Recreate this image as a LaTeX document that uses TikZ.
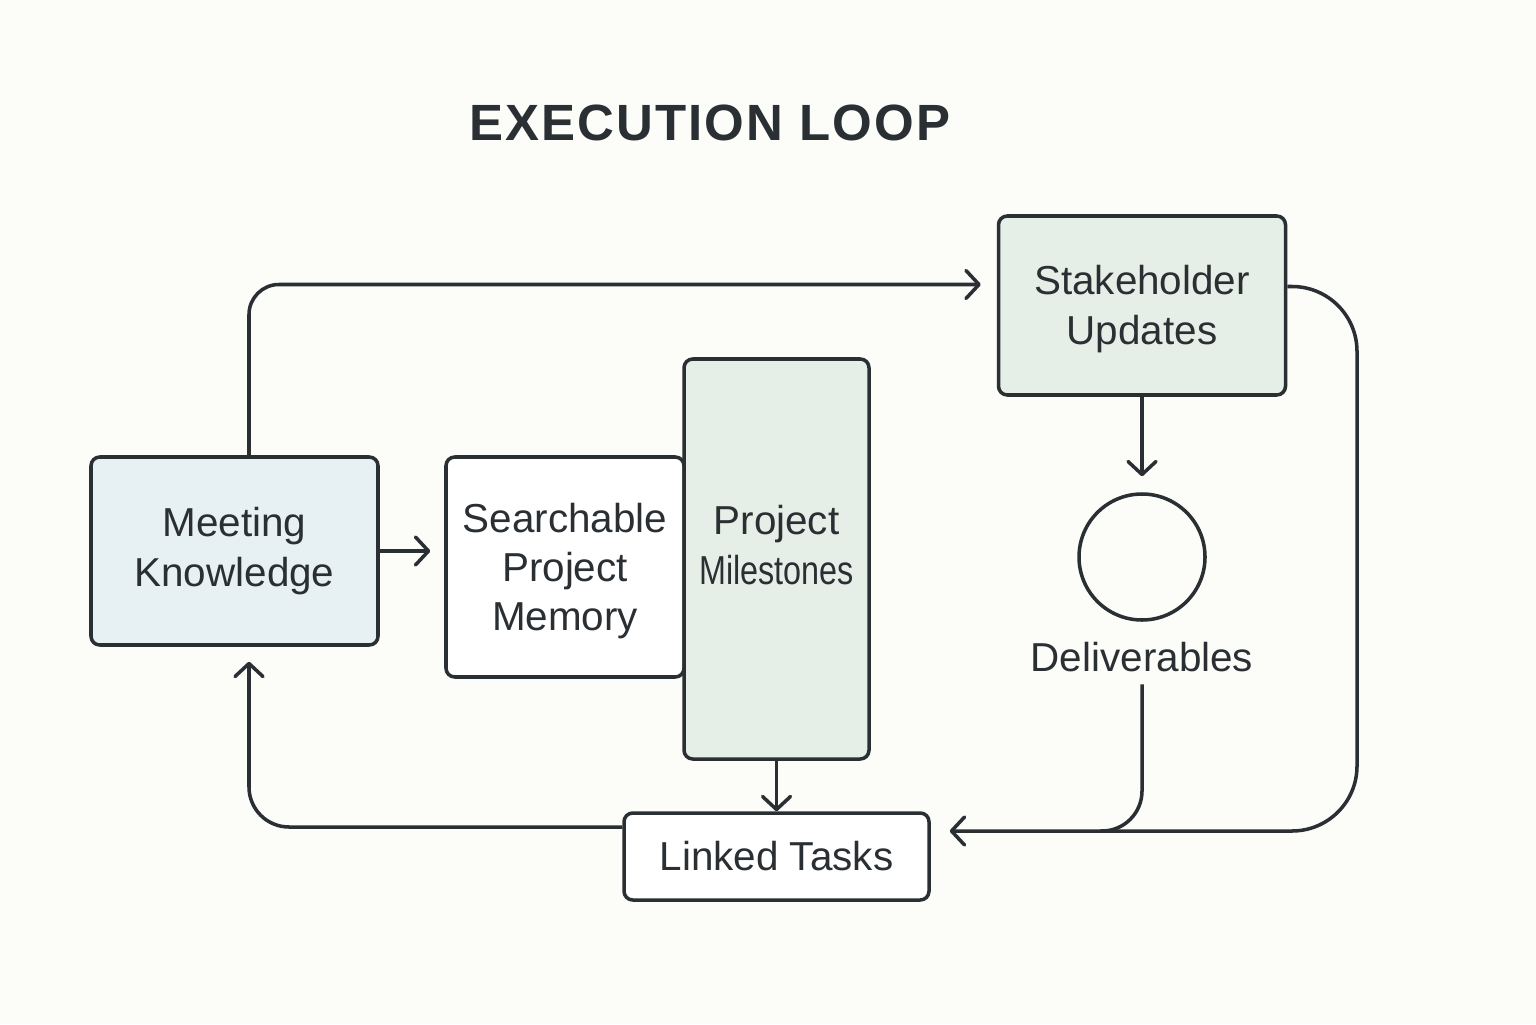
\documentclass[tikz,border=0pt]{standalone}
\usepackage{fontspec}
\setmainfont{Liberation Sans}
\newfontfamily\titlefont[LetterSpace=4]{Liberation Sans}
\usetikzlibrary{arrows.meta,positioning}
\definecolor{inkgray}{HTML}{2A2F33}
\definecolor{paper}{HTML}{FCFCF9}
\definecolor{knowblue}{HTML}{E7F0F3}
\definecolor{milegreen}{HTML}{E5EFE7}
\begin{document}
\begin{tikzpicture}
        \tikzset{
          every node/.style={text=inkgray,align=center,font=\fontsize{11.5}{14}\selectfont},
          box/.style={draw=inkgray,line width=1pt,rounded corners=2.5pt,inner sep=0pt},
          link/.style={draw=inkgray,line width=1pt,-{Straight Barb[length=1.3mm,width=2.8mm,round]}},
        }
        \fill[paper] (0,0) rectangle (15.36,10.24);

        %TITLE
        \node[font=\titlefont\bfseries\fontsize{14.5}{17}\selectfont] (title) at (7.10,9.01) {EXECUTION LOOP};

        %BOXES
        \node[box,fill=knowblue,minimum width=2.87cm,minimum height=1.88cm] (meet) at (2.345,4.73) {Meeting\\Knowledge};
        \node[box,fill=white,minimum width=2.38cm,minimum height=2.20cm] (search) at (5.65,4.57) {};
        \node (searchtext) at (5.65,4.53) {Searchable\\Project\\Memory};
        \node[box,fill=milegreen,minimum width=1.85cm,minimum height=4.00cm] (mile) at (7.765,4.65) {};
        \node (miletext) at (7.765,4.79) {Project\\\scalebox{0.8}[1]{Milestones}};
        \node[box,fill=milegreen,minimum width=2.87cm,minimum height=1.79cm] (stake) at (11.42,7.185) {};
        \node (staketext) at (11.42,7.15) {Stakeholder\\Updates};
        \node[circle,draw=inkgray,line width=1pt,minimum size=1.26cm] (deliv) at (11.42,4.67) {};
        \node (dlab) at (11.42,3.67) {Deliverables};
        \node[box,fill=white,minimum width=3.05cm,minimum height=0.87cm] (tasks) at (7.765,1.675) {Linked Tasks};

        %ARROWS
        \draw[link] (meet.east) -- ([xshift=-1.4mm]search.west |- meet.east);
        \draw[link,rounded corners=3mm] ([xshift=1.45mm]meet.north) |- ([xshift=-1.6mm,yshift=2.1mm]stake.west);
        \draw[link] (stake.south) -- ([yshift=1.6mm]deliv.north);
        \draw[link] (mile.south) -- (tasks.north);
        \draw[link,rounded corners=4mm] ([yshift=2.95mm]tasks.west) -| ([xshift=1.45mm,yshift=-1.5mm]meet.south);
        \draw[link,rounded corners=4mm] (dlab.south) |- ([xshift=1.9mm,yshift=2.55mm]tasks.east);

        %BACK FROM UPDATES
        \coordinate (rbend) at (13.57,1.93);
        \coordinate (join) at (11.0,1.93);
        \draw[inkgray,line width=1pt,rounded corners=6.5mm] ([yshift=1.9mm]stake.east) -| (rbend) -- (join);
\end{tikzpicture}
\end{document}
